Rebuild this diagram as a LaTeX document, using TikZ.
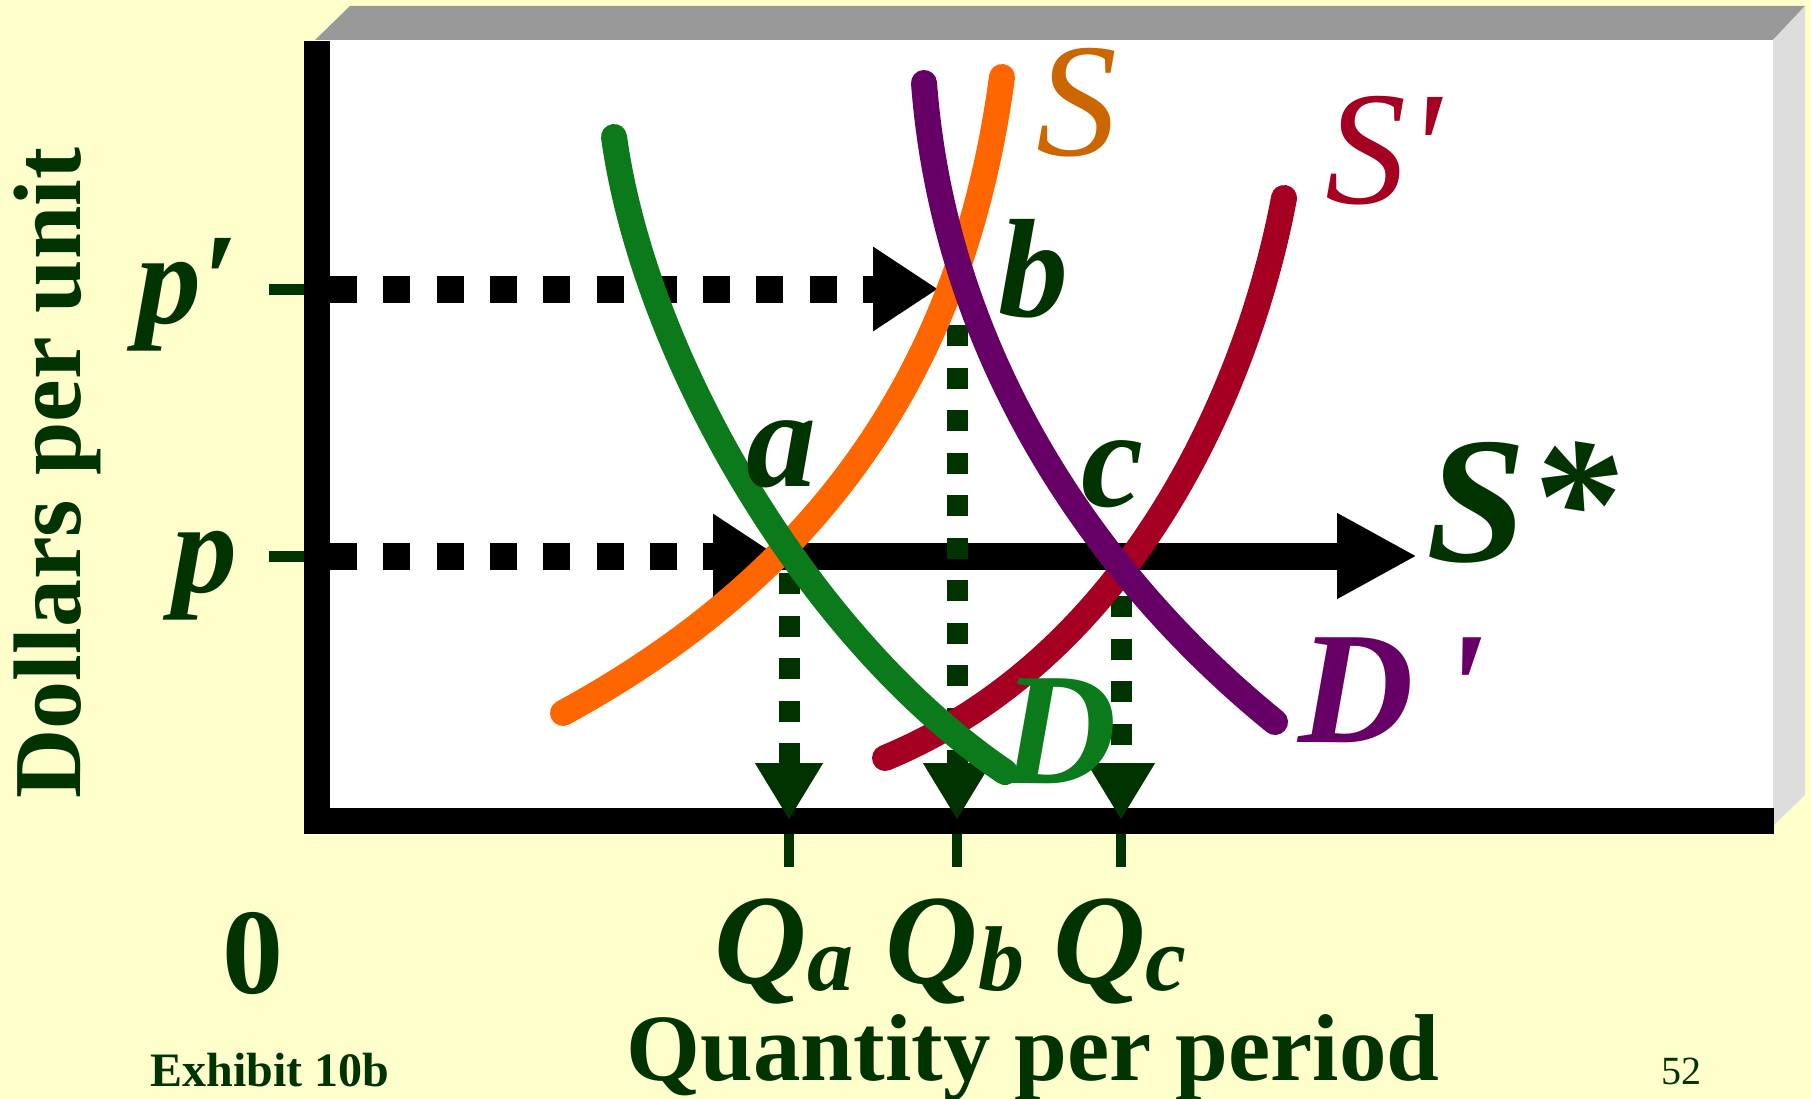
\documentclass[tikz,border=0pt]{standalone}
\usepackage{fontspec}
\setmainfont{Liberation Serif}
\usepackage{xcolor}
\usepackage{tikz}
\usetikzlibrary{arrows.meta}

\definecolor{slideyellow}{HTML}{FFFFCC}
\definecolor{darkgreen}{HTML}{003300}
\definecolor{sorange}{HTML}{FF6600}
\definecolor{slabel}{HTML}{CC6600}
\definecolor{sred}{HTML}{A50021}
\definecolor{dpurple}{HTML}{660066}
\definecolor{dgreen}{HTML}{0B7A1A}
\definecolor{bandgray}{HTML}{999999}
\definecolor{sidegray}{HTML}{DDDDDD}

\newcommand{\fsz}[1]{\fontsize{#1pt}{#1pt}\selectfont}
\newcommand{\qsub}[1]{Q\raisebox{-7pt}{\fsz{92}#1}}

\begin{document}
\begin{tikzpicture}[x=1pt, y=-1pt,
    curve/.style={line width=26pt, line cap=round},
    dotarrow/.style={line width=27pt, dash pattern=on 27pt off 26.3pt, -{Triangle[length=65pt,width=80pt]}},
    droparrow/.style={draw=darkgreen, line width=21pt, dash pattern=on 21pt off 21.5pt, -{Triangle[length=57pt,width=64pt]}},
    tick/.style={draw=darkgreen, line width=11pt},
    lbl/.style={anchor=base, inner sep=0pt, text=darkgreen, font=\fsz{140}\bfseries\itshape},
    axislbl/.style={anchor=base, inner sep=0pt, text=darkgreen}
]
\useasboundingbox (0,0) rectangle (1811,1099);

% Slide and box
\fill[slideyellow] (0,0) rectangle (1811,1099);
\fill[white] (315,40) rectangle (1773,821);
\fill[bandgray] (315,40) -- (350,6) -- (1805,6) -- (1773,40) -- cycle;
\fill[sidegray] (1773,40) -- (1805,6) -- (1805,795) -- (1773,826) -- cycle;

% Axes
\coordinate (top) at (317,41);
\coordinate (origin) at (317,821);
\coordinate (right) at (1774,821);
\draw[line width=26pt] (top) -- (origin) -- (right);

% Points on the curves
\coordinate (pp) at (330,289);
\coordinate (p) at (330,556);
\coordinate (b) at (938,289);
\coordinate (a) at (778,556);
\coordinate (sstar) at (1417,556);
\coordinate (qatop) at (789,573);
\coordinate (qbtop) at (957,325);
\coordinate (qctop) at (1121,596);
\coordinate (qa) at (789,820);
\coordinate (qb) at (957,820);
\coordinate (qc) at (1121,820);

% Ticks
\draw[tick] (269,289) -- (304,289);
\draw[tick] (269,556) -- (304,556);
\draw[tick, line width=10pt] (789,834) -- (789,867);
\draw[tick, line width=10pt] (957,834) -- (957,867);
\draw[tick, line width=10pt] (1121,834) -- (1121,867);

% Price lines
\draw[dotarrow] (pp) -- (b);
\draw[dotarrow] (p) -- (a);
\draw[line width=27pt, -{Triangle[length=80pt,width=80pt]}] (a) -- (sstar);

% Quantity lines
\draw[droparrow] (qatop) -- (qa);
\draw[droparrow] (qbtop) -- (qb);
\draw[droparrow] (qctop) -- (qc);

% Supply and demand
\draw[curve, sorange] (1002,77) .. controls (968,330) and (853,555) .. (563,713);
\draw[curve, sred] (1284,198) .. controls (1246,400) and (1124,659) .. (885,758);
\draw[curve, dpurple] (924,83) .. controls (945,360) and (1100,580) .. (1275,722);
\draw[curve, dgreen] (614,137) .. controls (645,360) and (810,640) .. (1005,772);

% Curve labels
\node[lbl, text=slabel, font=\fsz{162}\itshape] (slbl) at (1077,156) {S};
\node[lbl, text=sred, font=\fsz{162}\itshape] (splbl) at (1383,204) {S\textquotesingle};
\node[lbl, font=\fsz{180}\bfseries\itshape] (sstarlbl) at (1522,561) {S*};
\node[lbl, text=dpurple, font=\fsz{160}\bfseries\itshape] (dplbl) at (1392,742) {D\,\textquotesingle};
\node[lbl, text=dgreen, font=\fsz{160}\bfseries\itshape] (dlbl) at (1059,783) {D};

% Point labels
\node[lbl] (albl) at (781,486) {a};
\node[lbl] (blbl) at (1033,316) {b};
\node[lbl] (clbl) at (1113,506) {c};
\node[lbl, font=\fsz{130}\bfseries\itshape] (pplbl) at (187,323) {p′};
\node[lbl, font=\fsz{130}\bfseries\itshape] (plbl) at (205,592) {p};
\node[lbl, font=\fsz{128}\bfseries\itshape] (qalbl) at (784,983) {\qsub{a}};
\node[lbl, font=\fsz{128}\bfseries\itshape] (qblbl) at (955,983) {\qsub{b}};
\node[lbl, font=\fsz{128}\bfseries\itshape] (qclbl) at (1120,983) {\qsub{c}};

% Axis labels
\node[axislbl, font=\fsz{96}\bfseries, rotate=90] (ylbl) at (80,473) {Dollars per unit};
\node[axislbl, font=\fsz{95}\bfseries] (xlbl) at (1033,1080) {Quantity per period};
\node[axislbl, font=\fsz{122}\bfseries] (zero) at (253,993) {0};
\node[axislbl, font=\fsz{48}\bfseries] (exhibit) at (270,1086) {Exhibit 10b};
\node[axislbl, font=\fsz{40}] (pagenum) at (1681,1084) {52};

\end{tikzpicture}
\end{document}
